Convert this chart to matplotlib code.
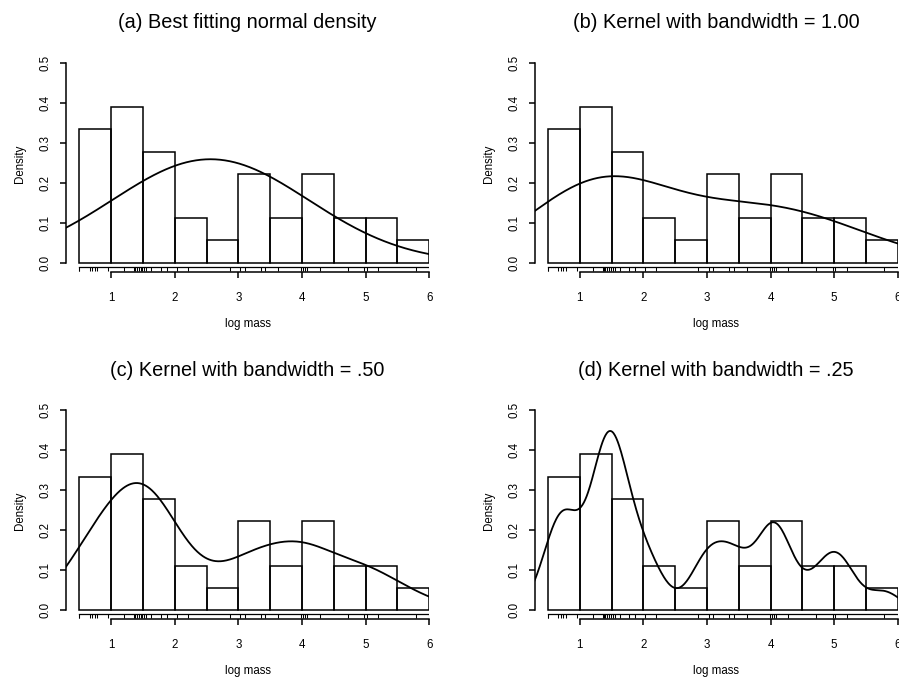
import numpy as np
import matplotlib
matplotlib.use('Agg')
import matplotlib.pyplot as plt

plt.rcParams['font.family'] = ['Liberation Sans', 'DejaVu Sans']

# log mass values
log_mass = [0.50, 0.66, 0.70, 0.74, 0.78, 0.95,
            1.20, 1.36, 1.38, 1.40, 1.43, 1.46, 1.49,
            1.52, 1.55, 1.63, 1.78, 1.87,
            2.03, 2.20,
            2.86,
            3.03, 3.10, 3.35, 3.42,
            3.63, 3.99,
            4.02, 4.05, 4.08, 4.28,
            4.72, 4.98,
            5.02, 5.20,
            5.79]
breaks = [0.5, 1.0, 1.5, 2.0, 2.5, 3.0, 3.5, 4.0, 4.5, 5.0, 5.5, 6.0]
bandwidths = [None, 1.00, 0.50, 0.25]
titles = ['(a) Best fitting normal density',
          '(b) Kernel with bandwidth = 1.00',
          '(c) Kernel with bandwidth = .50',
          '(d) Kernel with bandwidth = .25']

W, H = 899, 679
fig = plt.figure(figsize=(W / 100, H / 100), dpi=100)

x = np.array(log_mass)
grid = np.linspace(0, 6.5, 600)
rng = x.max() - x.min()
xlim = (x.min() - 0.04 * rng, x.max() + 0.04 * rng)

# panel geometry in pixels (top-left of plot region)
ax_w, ax_h = 363.3, 217.3
origins = [(66.0, 54.7), (534.6, 54.7), (66.0, 402.0), (534.6, 402.0)]

for i in range(4):
    x0, y0 = origins[i]
    ax = fig.add_axes([x0 / W, 1 - (y0 + ax_h) / H, ax_w / W, ax_h / H])
    ax.hist(x, bins=breaks, density=True, fill=False, edgecolor='black', linewidth=1.1)

    bw = bandwidths[i]
    if bw is None:
        mu, sd = x.mean(), x.std(ddof=1)
        dens = np.exp(-0.5 * ((grid - mu) / sd) ** 2) / (sd * np.sqrt(2 * np.pi))
    else:
        z = (grid[:, None] - x[None, :]) / bw
        dens = np.exp(-0.5 * z ** 2).mean(axis=1) / (bw * np.sqrt(2 * np.pi))
    ax.plot(grid, dens, color='black', linewidth=1.3)

    # rug
    ax.plot([breaks[0], breaks[-1]], [-0.0095, -0.0095], color='black', linewidth=0.9)
    ax.vlines(list(x) + [breaks[0], breaks[-1]], -0.021, -0.0095, color='black', linewidth=0.75)

    ax.set_xlim(*xlim)
    ax.set_ylim(-0.02325, 0.52)
    ax.set_xticks([1, 2, 3, 4, 5, 6])
    ax.set_yticks([0.0, 0.1, 0.2, 0.3, 0.4, 0.5])
    ax.set_yticklabels(['0.0', '0.1', '0.2', '0.3', '0.4', '0.5'], rotation=90, va='center')
    for s in ['top', 'right']:
        ax.spines[s].set_visible(False)
    ax.spines['bottom'].set_bounds(1, 6)
    ax.spines['left'].set_bounds(0, 0.5)
    ax.spines['bottom'].set_linewidth(1.1)
    ax.spines['left'].set_linewidth(1.1)
    ax.tick_params(axis='both', length=4.2, width=1.1, labelsize=8.3)
    ax.tick_params(axis='x', pad=10)
    ax.tick_params(axis='y', pad=6)
    ax.set_xlabel('log mass', fontsize=8.3, labelpad=10)
    ax.set_ylabel('Density', fontsize=8.3, labelpad=10)
    ax.set_title(titles[i], fontsize=14.3, pad=19)

fig.savefig('out.png', dpi=100)
